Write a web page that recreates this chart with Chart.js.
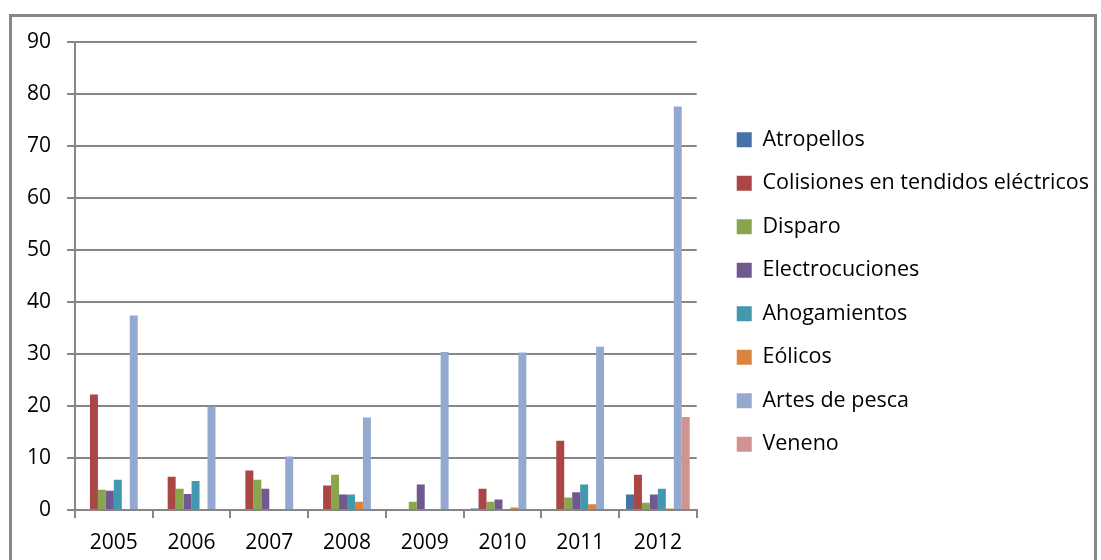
<!DOCTYPE html>
<html>
<head>
<meta charset="utf-8">
<script src="https://cdn.jsdelivr.net/npm/chart.js@4.4.0/dist/chart.umd.min.js"></script>
<style>
  html, body { margin: 0; padding: 0; background: #ffffff; overflow: hidden; }
  #frame { position: absolute; left: 9px; top: 14px; width: 1088px; height: 620px; border: 3px solid #878787; box-sizing: border-box; }
  #wrap { position: absolute; left: 0; top: 0; width: 1101px; height: 560px; }
</style>
</head>
<body>
<div id="frame"></div>
<div id="wrap"><canvas id="c" width="1101" height="560"></canvas></div>
<script>
const categories = ["2005", "2006", "2007", "2008", "2009", "2010", "2011", "2012"];
const atropellos     = [0, 0, 0, 0, 0, 0.3, 0, 3.0];
const colisiones     = [22.2, 6.4, 7.6, 4.7, 0, 4.1, 13.3, 6.8];
const disparo        = [3.9, 4.1, 5.8, 6.8, 1.6, 1.6, 2.4, 1.4];
const electrocuciones= [3.7, 3.1, 4.1, 3.0, 4.9, 2.0, 3.4, 3.0];
const ahogamientos   = [5.8, 5.6, 0, 3.0, 0, 0, 4.9, 4.1];
const eolicos        = [0, 0, 0, 1.6, 0, 0.5, 1.1, 0.3];
const artesPesca     = [37.4, 19.9, 10.3, 17.8, 30.4, 30.3, 31.4, 77.6];
const veneno         = [0, 0, 0, 0, 0, 0, 0, 17.9];
const seriesNames = ["Atropellos", "Colisiones en tendidos eléctricos", "Disparo", "Electrocuciones", "Ahogamientos", "Eólicos", "Artes de pesca", "Veneno"];
const yTicks = [0, 10, 20, 30, 40, 50, 60, 70, 80, 90];

const colors = ["#4572A7", "#AA4643", "#89A54E", "#71588F", "#4198AF", "#DB843D", "#93A9CF", "#D19392"];
const allSeries = [atropellos, colisiones, disparo, electrocuciones, ahogamientos, eolicos, artesPesca, veneno];

const FONT = "'Open Sans', 'DejaVu Sans', sans-serif";
const grey = "#868686";

new Chart(document.getElementById("c"), {
  type: "bar",
  data: {
    labels: categories,
    datasets: allSeries.map((d, i) => ({
      label: seriesNames[i],
      data: d,
      backgroundColor: colors[i],
      borderWidth: 0,
      barPercentage: 1.0,
      categoryPercentage: 0.82
    }))
  },
  options: {
    responsive: false,
    animation: false,
    devicePixelRatio: 1,
    layout: { padding: { left: 20, top: 42, right: 2, bottom: 0 } },
    plugins: {
      legend: {
        position: "right",
        align: "start",
        maxWidth: 420,
        title: { display: true, text: "", color: "#000000", font: { size: 10 }, padding: { top: 53, bottom: 0 } },
        labels: {
          font: { family: FONT, size: 21.5 },
          color: "#000000",
          boxWidth: 15,
          boxHeight: 15,
          padding: 22,
          generateLabels(chart) {
            return chart.data.datasets.map((ds, i) => ({
              text: ds.label,
              fillStyle: ds.backgroundColor,
              strokeStyle: ds.backgroundColor,
              fontColor: "#000000",
              lineWidth: 0,
              hidden: false,
              datasetIndex: i
            }));
          }
        }
      },
      tooltip: { enabled: false }
    },
    scales: {
      x: {
        grid: { display: true, drawOnChartArea: false, drawTicks: true, tickLength: 8, color: grey, lineWidth: 2, offset: true },
        border: { display: true, color: grey, width: 2 },
        ticks: { font: { family: FONT, size: 21 }, color: "#000000", padding: 12 },
        afterFit(s) { s.height = 50; }
      },
      y: {
        min: 0, max: 90,
        afterBuildTicks(s) { s.ticks = yTicks.map(v => ({ value: v })); },
        grid: { color: grey, lineWidth: 2, tickLength: 8, drawTicks: true },
        border: { display: true, color: grey, width: 2 },
        ticks: { font: { family: FONT, size: 21 }, color: "#000000", padding: 16 },
        afterFit(s) { s.width = 55; }
      },
      gap: {
        position: "right",
        display: true,
        grid: { display: false, drawOnChartArea: false },
        border: { display: false },
        ticks: { display: false },
        afterFit(s) { s.width = 18; }
      }
    }
  }
});
</script>
</body>
</html>
